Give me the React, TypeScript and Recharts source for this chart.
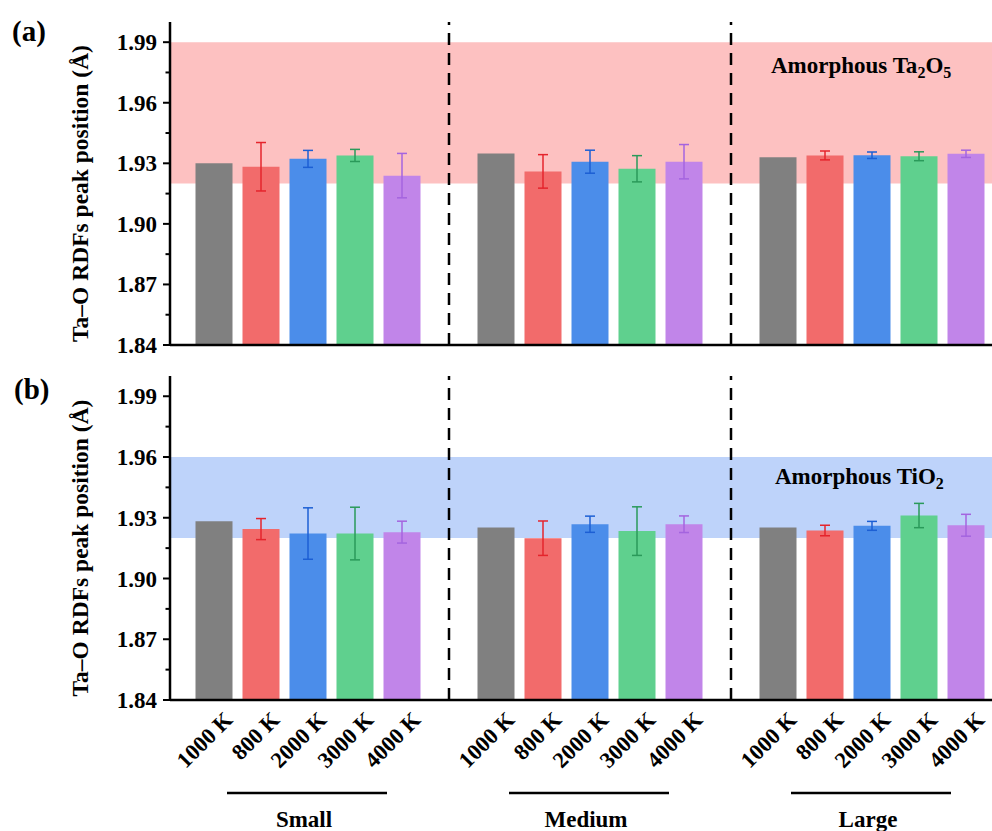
import React from "react";
import {
  BarChart,
  Bar,
  Cell,
  ErrorBar,
  XAxis,
  YAxis,
  ReferenceArea,
  ReferenceLine,
  Label,
} from "recharts";

// region [Data]
const temps = ["1000 K", "800 K", "2000 K", "3000 K", "4000 K"];
const sizes = ["Small", "Medium", "Large"];

// (a) Ta-O peak positions, Ta2O5 reference band
const aSmall = [1.93, 1.9283, 1.9322, 1.9339, 1.9239];
const aSmallErr = [0, 0.012, 0.0042, 0.003, 0.011];
const aMedium = [1.9349, 1.926, 1.9308, 1.9273, 1.9308];
const aMediumErr = [0, 0.0083, 0.0057, 0.0065, 0.0085];
const aLarge = [1.933, 1.9339, 1.934, 1.9335, 1.9347];
const aLargeErr = [0, 0.0022, 0.0016, 0.0022, 0.0018];

// (b) Ta-O peak positions, TiO2 reference band
const bSmall = [1.9283, 1.9244, 1.9222, 1.9222, 1.9229];
const bSmallErr = [0, 0.0052, 0.0127, 0.013, 0.0054];
const bMedium = [1.9252, 1.9199, 1.9268, 1.9234, 1.9268];
const bMediumErr = [0, 0.0085, 0.004, 0.012, 0.0041];
const bLarge = [1.9252, 1.9237, 1.926, 1.9311, 1.9263];
const bLargeErr = [0, 0.0026, 0.0022, 0.006, 0.0054];

const bandA = [1.92, 1.99];
const bandB = [1.92, 1.96];

const majorTicks = [1.84, 1.87, 1.9, 1.93, 1.96, 1.99];
const minorTicks = [1.855, 1.885, 1.915, 1.945, 1.975];
// endregion

const colors = ["#808080", "#f26b6b", "#4b8dea", "#5fd08e", "#c185e9"];
const errColors = ["#555555", "#e5242c", "#1c5fd4", "#2a9a5a", "#a464df"];
const serif = '"Liberation Serif", "Times New Roman", serif';
const yTicks = [...majorTicks, ...minorTicks].sort((p, q) => p - q);
const xPad = { left: 20.5, right: 26.5 };

type Row = { id: string; label: string; t: number; v?: number; [k: string]: any };

function buildRows(values: number[][], errs: number[][]): Row[] {
  const rows: Row[] = [];
  sizes.forEach((size, gi) => {
    temps.forEach((temp, ti) => {
      const row: Row = { id: `${size}-${ti}`, label: temp, t: ti, v: values[gi][ti] };
      if (errs[gi][ti]) row[`e${ti}`] = errs[gi][ti];
      rows.push(row);
    });
    if (gi < sizes.length - 1) rows.push({ id: `gap${gi}`, label: "", t: -1 });
  });
  return rows;
}

const rowsA = buildRows([aSmall, aMedium, aLarge], [aSmallErr, aMediumErr, aLargeErr]);
const rowsB = buildRows([bSmall, bMedium, bLarge], [bSmallErr, bMediumErr, bLargeErr]);

function YTick(props: any) {
  const { x, y, payload } = props;
  const major = majorTicks.some((t) => Math.abs(t - payload.value) < 1e-6);
  const ax = x + 11;
  return (
    <g>
      <line x1={ax - (major ? 7 : 4.5)} x2={ax} y1={y} y2={y} stroke="#000" strokeWidth={2} />
      {major && (
        <text
          x={ax - 13}
          y={y}
          dy="0.35em"
          textAnchor="end"
          fontFamily={serif}
          fontWeight="bold"
          fontSize={23}
          fill="#000"
        >
          {payload.value.toFixed(2)}
        </text>
      )}
    </g>
  );
}

function XTick(props: any) {
  const { x, y, payload } = props;
  const row = rowsB.find((r) => r.id === payload.value);
  if (!row || !row.label) return null;
  const ax = x + 20;
  const ay = y + 13;
  return (
    <text
      x={ax}
      y={ay}
      transform={`rotate(-45, ${ax}, ${ay})`}
      textAnchor="end"
      fontFamily={serif}
      fontWeight="bold"
      fontSize={22.5}
      fill="#000"
    >
      {row.label}
    </text>
  );
}

function GroupTick(props: any) {
  const { x, y, payload } = props;
  const [size, idx] = String(payload.value).split("-");
  if (idx !== "2") return null;
  return (
    <g>
      <line x1={x - 81} x2={x + 79} y1={y + 5} y2={y + 5} stroke="#000" strokeWidth={2.5} />
      <text
        x={x - 4}
        y={y + 39}
        textAnchor="middle"
        fontFamily={serif}
        fontWeight="bold"
        fontSize={23}
        fill="#000"
      >
        {size}
      </text>
    </g>
  );
}

function YTitle(props: any) {
  const vb = props.viewBox;
  if (!vb) return null;
  const cx = vb.x + 10;
  const cy = vb.y + vb.height / 2 + 10;
  return (
    <text
      x={cx}
      y={cy}
      transform={`rotate(-90, ${cx}, ${cy})`}
      textAnchor="middle"
      dominantBaseline="central"
      fontFamily={serif}
      fontWeight="bold"
      fontSize={23.5}
      fill="#000"
    >
      Ta–O RDFs peak position (Å)
    </text>
  );
}

interface PanelProps {
  rows: Row[];
  band: number[];
  bandFill: string;
  showLabels: boolean;
  height: number;
  marginTop: number;
  marginBottom: number;
}

function Panel({ rows, band, bandFill, showLabels, height, marginTop, marginBottom }: PanelProps) {
  const axisStyle = { stroke: "#000", strokeWidth: 2.5 };
  return (
    <BarChart
      width={1100}
      height={height}
      data={rows}
      margin={{ top: marginTop, right: 84, bottom: marginBottom, left: 70 }}
      barSize={37}
    >
      <XAxis
        xAxisId="top"
        orientation="top"
        dataKey="id"
        height={0}
        tick={false}
        tickLine={false}
        axisLine={axisStyle}
      />
      <ReferenceArea
        xAxisId="top"
        y1={band[0]}
        y2={band[1]}
        fill={bandFill}
        fillOpacity={1}
        stroke="none"
      />
      <XAxis
        dataKey="id"
        interval={0}
        padding={xPad}
        tickLine={false}
        axisLine={axisStyle}
        height={showLabels ? 80 : 5}
        tick={showLabels ? <XTick /> : false}
      />
      {showLabels && (
        <XAxis
          xAxisId="grp"
          dataKey="id"
          interval={0}
          padding={xPad}
          tickLine={false}
          axisLine={false}
          height={60}
          tick={<GroupTick />}
        />
      )}
      <YAxis
        domain={[1.84, 2.0]}
        ticks={yTicks}
        interval={0}
        allowDataOverflow
        width={100}
        tickLine={false}
        tickSize={7}
        tickMargin={4}
        tick={<YTick />}
        axisLine={axisStyle}
      >
        <Label content={(p: any) => <YTitle {...p} />} />
      </YAxis>
      {rows
        .filter((r) => r.t < 0)
        .map((r) => (
          <ReferenceLine
            key={r.id}
            x={r.id}
            stroke="#000"
            strokeWidth={2.5}
            strokeDasharray="12 8"
          />
        ))}
      <Bar dataKey="v" isAnimationActive={false}>
        {rows.map((r) => (
          <Cell key={r.id} fill={r.t >= 0 ? colors[r.t] : "none"} />
        ))}
        {temps.map((_, t) =>
          t > 0 ? (
            <ErrorBar
              key={t}
              dataKey={`e${t}`}
              width={5}
              stroke={errColors[t]}
              strokeWidth={1.5}
              isAnimationActive={false}
            />
          ) : null
        )}
      </Bar>
    </BarChart>
  );
}

export default function App() {
  return (
    <div
      style={{
        position: "absolute",
        left: 0,
        top: 0,
        width: 992,
        height: 831,
        overflow: "hidden",
        background: "#fff",
      }}
    >
      <div style={{ position: "absolute", left: 0, top: 360 }}>
        <Panel
          rows={rowsB}
          band={bandB}
          bandFill="#bed3fa"
          showLabels={true}
          height={480}
          marginTop={16}
          marginBottom={0}
        />
      </div>
      <div style={{ position: "absolute", left: 0, top: 0 }}>
        <Panel
          rows={rowsA}
          band={bandA}
          bandFill="#fdc1c1"
          showLabels={false}
          height={362}
          marginTop={22}
          marginBottom={12}
        />
      </div>
      <svg
        width={992}
        height={831}
        style={{ position: "absolute", left: 0, top: 0, pointerEvents: "none" }}
        fontFamily={serif}
        fontWeight="bold"
        fill="#000"
      >
        <text x={12} y={41} fontSize={29}>(a)</text>
        <text x={14} y={399} fontSize={29}>(b)</text>
        <text x={771} y={73} fontSize={23}>
          Amorphous Ta<tspan dy={5} fontSize={16}>2</tspan>
          <tspan dy={-5}>O</tspan>
          <tspan dy={5} fontSize={16}>5</tspan>
        </text>
        <text x={775} y={484} fontSize={23}>
          Amorphous TiO<tspan dy={5} fontSize={16}>2</tspan>
        </text>
      </svg>
    </div>
  );
}
